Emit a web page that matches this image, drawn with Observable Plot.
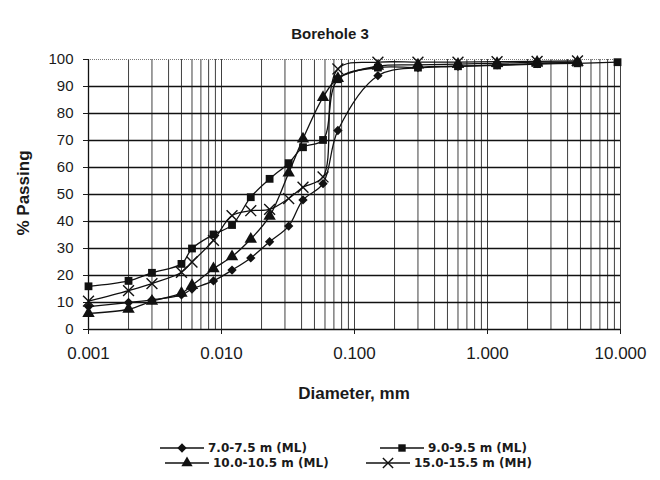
<!DOCTYPE html>
<html><head><meta charset="utf-8">
<script src="https://cdn.jsdelivr.net/npm/d3@7"></script>
<script src="https://cdn.jsdelivr.net/npm/@observablehq/plot@0.6"></script>
<style>
body{margin:0;background:#fff;}
#wrap{position:relative;width:660px;height:480px;overflow:hidden;font-family:"Liberation Sans",Arial,sans-serif;color:#1a1a1a;}
#chart{position:absolute;left:0;top:0;}
#title{position:absolute;left:0;width:660px;top:25px;text-align:center;font-weight:bold;font-size:15px;}
#xlab{position:absolute;left:88px;width:532px;top:384px;text-align:center;font-weight:bold;font-size:17px;}
#ylab{position:absolute;left:24px;top:193px;transform:translate(-50%,-50%) rotate(-90deg);font-weight:bold;font-size:17px;white-space:nowrap;}
.leg{position:absolute;display:flex;align-items:center;font-family:"DejaVu Sans",Verdana,sans-serif;font-weight:bold;font-size:12px;white-space:nowrap;}
.leg svg{margin-right:4px;}
</style>
</head><body>
<div id="wrap">
  <div id="chart"></div>
  <div id="title">Borehole 3</div>
  <div id="xlab">Diameter, mm</div>
  <div id="ylab">% Passing</div>
  <div id="legend"></div>
</div>
<script>
// ---- data ----
const seriesNames = ["7.0-7.5 m (ML)", "9.0-9.5 m (ML)", "10.0-10.5 m (ML)", "15.0-15.5 m (MH)"];
const seriesSymbols = ["diamond2", "square", "triangle", "times"];

const diam1 = [0.001, 0.002, 0.003, 0.005, 0.006, 0.0087, 0.012, 0.0166, 0.023, 0.032, 0.041, 0.058, 0.075, 0.15, 0.3, 0.6, 1.18, 2.36, 4.75];
const pass1 = [8.5, 10, 11, 12.8, 15, 18, 22, 26.5, 32.5, 38.3, 48, 54, 73.7, 94, 97, 97.5, 98, 98.5, 99];

const diam2 = [0.001, 0.002, 0.003, 0.005, 0.006, 0.0087, 0.012, 0.0166, 0.023, 0.032, 0.041, 0.058, 0.075, 0.15, 0.3, 0.6, 1.18, 2.36, 4.75, 9.5];
const pass2 = [16, 18, 21, 24.3, 30, 35.2, 38.7, 49, 55.8, 61.6, 67.5, 70.2, 92.7, 97, 97, 97.5, 97.8, 98.3, 98.6, 99];

const diam3 = [0.001, 0.002, 0.003, 0.005, 0.006, 0.0087, 0.012, 0.0166, 0.023, 0.032, 0.041, 0.058, 0.075, 0.15, 0.3, 0.6, 1.18, 2.36, 4.75];
const pass3 = [6, 7.5, 10.5, 13.5, 16.3, 22.5, 27, 33.5, 42, 58, 70.6, 86, 93, 97.5, 98, 98.3, 98.6, 99, 99];

const diam4 = [0.001, 0.002, 0.003, 0.005, 0.006, 0.0087, 0.012, 0.0166, 0.023, 0.032, 0.041, 0.058, 0.075, 0.15, 0.3, 0.6, 1.18, 2.36, 4.75];
const pass4 = [10.5, 14.4, 17, 21.2, 25, 33, 42.2, 44, 44.5, 48.5, 52.7, 56.5, 96.5, 99, 99, 99, 99.2, 99.3, 99.5];

const xTickValues = [0.001, 0.01, 0.1, 1, 10];
const xTickLabels = ["0.001", "0.010", "0.100", "1.000", "10.000"];
const yTickValues = [0, 10, 20, 30, 40, 50, 60, 70, 80, 90, 100];

// ---- build ----
const diams = [diam1, diam2, diam3, diam4];
const passes = [pass1, pass2, pass3, pass4];
const rows = [];
seriesNames.forEach((name, i) => {
  diams[i].forEach((d, j) => rows.push({series: name, symbol: seriesSymbols[i], d, p: passes[i][j]}));
});

const minorGrid = [];
for (let k = -3; k <= 0; k++) for (let m = 1; m <= 9; m++) minorGrid.push(+(m * Math.pow(10, k)).toPrecision(3));
minorGrid.push(10);

const lineMarks = seriesNames.map(name =>
  Plot.line(rows.filter(r => r.series === name), {x: "d", y: "p", stroke: "#111", strokeWidth: 1.3, curve: "catmull-rom"})
);
const dotMarks = seriesNames.map((name, i) => {
  const data = rows.filter(r => r.series === name);
  if (seriesSymbols[i] === "times")
    return Plot.dot(data, {x: "d", y: "p", symbol: "times", r: 5, stroke: "#111", strokeWidth: 1.4, fill: "none"});
  const r = seriesSymbols[i] === "triangle" ? 4.6 : seriesSymbols[i] === "square" ? 4.4 : 4.2;
  return Plot.dot(data, {x: "d", y: "p", symbol: seriesSymbols[i], r, fill: "#111", stroke: "none"});
});

const chart = Plot.plot({
  width: 660, height: 410,
  marginLeft: 88, marginRight: 40, marginTop: 59, marginBottom: 81,
  x: {type: "log", domain: [0.001, 10]},
  y: {domain: [0, 100]},
  style: {fontFamily: "'Liberation Sans', Arial, sans-serif", color: "#1a1a1a", background: "transparent"},
  marks: [
    Plot.ruleX(minorGrid, {stroke: "#2a2a2a", strokeWidth: 0.9}),
    Plot.ruleY(yTickValues.filter(v => v > 0 && v < 100), {stroke: "#111", strokeWidth: 1.6}),
    Plot.ruleY([100], {stroke: "#777", strokeWidth: 1, strokeDasharray: "1,1"}),
    Plot.ruleX([0.001], {stroke: "#111", strokeWidth: 1.3}),
    Plot.ruleY([0], {stroke: "#111", strokeWidth: 1.3}),
    Plot.axisX({ticks: xTickValues, tickFormat: d => xTickLabels[xTickValues.indexOf(d)], tickSize: 5, tickPadding: 12, fontSize: 17, label: null}),
    Plot.axisY({ticks: yTickValues, tickSize: 5, tickPadding: 10, fontSize: 15, label: null}),
    ...lineMarks,
    ...dotMarks
  ]
});
document.getElementById("chart").appendChild(chart);

// ---- legend ----
const legendPos = [[160, 440], [380, 440], [165, 455], [366, 455]];
const legend = document.getElementById("legend");
const symMap = {diamond2: d3.symbolDiamond2, square: d3.symbolSquare, triangle: d3.symbolTriangle, times: d3.symbolTimes};
seriesNames.forEach((name, i) => {
  const div = document.createElement("div");
  div.className = "leg";
  div.style.left = legendPos[i][0] + "px";
  div.style.top = legendPos[i][1] + "px";
  const svg = d3.create("svg").attr("width", 44).attr("height", 16);
  svg.append("line").attr("x1", 0).attr("x2", 44).attr("y1", 8).attr("y2", 8).attr("stroke", "#111").attr("stroke-width", 1.3);
  const isTimes = seriesSymbols[i] === "times";
  svg.append("path")
    .attr("transform", "translate(22,8)")
    .attr("d", d3.symbol(symMap[seriesSymbols[i]], isTimes ? 70 : 55)())
    .attr("fill", isTimes ? "none" : "#111")
    .attr("stroke", isTimes ? "#111" : "none")
    .attr("stroke-width", 1.4);
  div.appendChild(svg.node());
  const span = document.createElement("span");
  span.textContent = name;
  div.appendChild(span);
  legend.appendChild(div);
});
</script>
</body></html>
